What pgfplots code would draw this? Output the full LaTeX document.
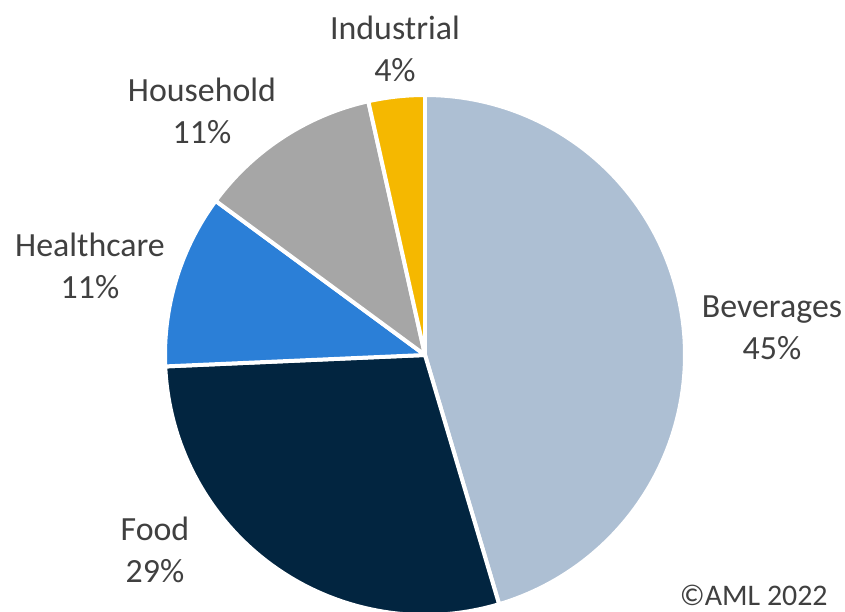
\documentclass[border=0pt]{standalone}
\usepackage{pgfplots}
\pgfplotsset{compat=1.18}
\usepackage{fontspec}
\setmainfont{Carlito}
\definecolor{bev}{HTML}{ADBFD3}
\definecolor{food}{HTML}{022540}
\definecolor{health}{HTML}{2B7FD7}
\definecolor{house}{HTML}{A6A6A6}
\definecolor{indus}{HTML}{F5B800}
\definecolor{txt}{HTML}{404040}
\tikzset{lbl/.style={text=txt, align=center, font=\fontsize{17}{21}\selectfont, inner sep=0pt}}
\begin{document}
\begin{tikzpicture}
\path[use as bounding box, clip] (0,0) rectangle (422.5bp,306bp);
\begin{axis}[
  at={(0,0)}, anchor=south west,
  scale only axis, width=422.5bp, height=306bp,
  xmin=0, xmax=845, ymin=0, ymax=612,
  hide axis, clip=false,
]
% pie: centre (425,257), radius 260; cumulative shares 0, 45.4, 74.3, 85.1, 96.5, 100
\addplot[fill=bev, draw=white, line width=2pt, line join=round, domain={90-3.6*45.4}:{90-3.6*0}, samples=120, variable=\t]
  ({425+260*cos(\t)},{257+260*sin(\t)}) -- (axis cs:425,257) -- cycle;
\addplot[fill=food, draw=white, line width=2pt, line join=round, domain={90-3.6*74.3}:{90-3.6*45.4}, samples=90, variable=\t]
  ({425+260*cos(\t)},{257+260*sin(\t)}) -- (axis cs:425,257) -- cycle;
\addplot[fill=health, draw=white, line width=2pt, line join=round, domain={90-3.6*85.1}:{90-3.6*74.3}, samples=40, variable=\t]
  ({425+260*cos(\t)},{257+260*sin(\t)}) -- (axis cs:425,257) -- cycle;
\addplot[fill=house, draw=white, line width=2pt, line join=round, domain={90-3.6*96.5}:{90-3.6*85.1}, samples=40, variable=\t]
  ({425+260*cos(\t)},{257+260*sin(\t)}) -- (axis cs:425,257) -- cycle;
\addplot[fill=indus, draw=white, line width=2pt, line join=round, domain={90-3.6*100}:{90-3.6*96.5}, samples=20, variable=\t]
  ({425+260*cos(\t)},{257+260*sin(\t)}) -- (axis cs:425,257) -- cycle;

\node[lbl] at (axis cs:395,563) {Industrial\\4\%};
\node[lbl] at (axis cs:202,501) {Household\\11\%};
\node[lbl] at (axis cs:90,346) {Healthcare\\11\%};
\node[lbl] at (axis cs:772,284) {Beverages\\45\%};
\node[lbl] at (axis cs:155,62) {Food\\29\%};
\node[lbl, anchor=south east, font=\fontsize{15}{18}\selectfont] at (axis cs:828,6) {\textcopyright AML 2022};
\end{axis}
\end{tikzpicture}
\end{document}
